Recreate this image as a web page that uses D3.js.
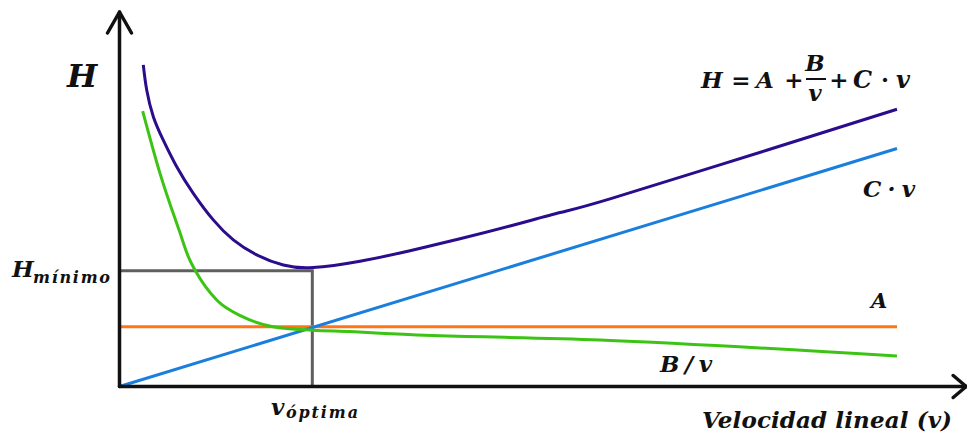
<!DOCTYPE html>
<html>
<head>
<meta charset="utf-8">
<script src="https://cdn.jsdelivr.net/npm/d3@7"></script>
<style>
  html, body { margin: 0; padding: 0; background: #fff; }
  svg text { font-family: "DejaVu Serif", "Liberation Serif", serif; font-weight: bold; font-style: italic; fill: #111; }
</style>
</head>
<body>
<svg id="chart" width="967" height="434"></svg>
<script>
// Van Deemter style plate height curve: H = A + B/v + C·v

// total plate height H(v)
const hVel = [0.306, 0.350, 0.435, 0.563, 0.736, 0.949, 1.206, 1.464, 1.765, 2.107, 2.489, 3.093, 3.736, 4.379, 5.023, 5.666, 6.309, 8.324, 10.0];
const hVal = [9.19, 8.47, 7.71, 7.04, 6.28, 5.52, 4.76, 4.19, 3.76, 3.47, 3.40, 3.58, 3.88, 4.22, 4.585, 4.97, 5.36, 6.75, 7.92];

// longitudinal diffusion term B/v
const bVel = [0.298, 0.521, 0.778, 0.885, 0.993, 1.25, 1.588, 1.974, 2.489, 2.965, 3.351, 6.18, 10.0];
const bVal = [7.87, 6.09, 4.39, 3.71, 3.24, 2.47, 1.99, 1.71, 1.61, 1.57, 1.52, 1.33, 0.87];

// eddy diffusion term A (constant)
const aVel = [0, 10];
const aVal = [1.71, 1.71];

// mass transfer term C·v
const cVel = [0, 10];
const cVal = [0, 6.8];

// optimum point
const vOptima = 2.48;
const hMinimo = 3.31;

// axis extents (arrow tips)
const xAxisEnd = 10.89;
const yAxisEnd = 10.7;

const svg = d3.select("#chart");

const x = d3.scaleLinear().domain([0, 10]).range([119.5, 897]);
const y = d3.scaleLinear().domain([0, 10]).range([386.5, 36.5]);

const zip = (vs, hs) => vs.map((v, i) => [v, hs[i]]);
const smoothH = d3.line().x(d => x(d[0])).y(d => y(d[1])).curve(d3.curveNatural);
const smoothB = d3.line().x(d => x(d[0])).y(d => y(d[1])).curve(d3.curveMonotoneX);
const straight = d3.line().x(d => x(d[0])).y(d => y(d[1]));

// guide lines to the minimum
svg.append("path")
  .attr("d", straight([[0, hMinimo], [vOptima, hMinimo], [vOptima, 0]]))
  .attr("fill", "none").attr("stroke", "#5f5f5f").attr("stroke-width", 3);

// curves
svg.append("path").attr("d", straight(zip(aVel, aVal)))
  .attr("fill", "none").attr("stroke", "#ff7414").attr("stroke-width", 3);
svg.append("path").attr("d", straight(zip(cVel, cVal)))
  .attr("fill", "none").attr("stroke", "#1a7fdc").attr("stroke-width", 3);
svg.append("path").attr("d", smoothB(zip(bVel, bVal)))
  .attr("fill", "none").attr("stroke", "#3cc415").attr("stroke-width", 3);
svg.append("path").attr("d", smoothH(zip(hVel, hVal)))
  .attr("fill", "none").attr("stroke", "#2b0c8c").attr("stroke-width", 3);

// axes with arrows
const axisG = svg.append("g").attr("stroke", "#111").attr("fill", "none")
  .attr("stroke-width", 3.5).attr("stroke-linecap", "round").attr("stroke-linejoin", "round");
axisG.append("path").attr("d", straight([[0, 0], [xAxisEnd, 0]]));
axisG.append("path").attr("d", straight([[0, 0], [0, yAxisEnd]]));
const xt = x(xAxisEnd), yt = y(yAxisEnd);
axisG.append("path").attr("d", `M${xt - 13},${y(0) - 11}L${xt},${y(0)}L${xt - 13},${y(0) + 11}`);
axisG.append("path").attr("d", `M${x(0) - 12},${yt + 21}L${x(0)},${yt}L${x(0) + 12},${yt + 21}`);

// labels
const txt = (s, px, py, size, anchor) => svg.append("text")
  .attr("x", px).attr("y", py).attr("font-size", size)
  .attr("text-anchor", anchor || "start").text(s);

txt("H", 67, 87, 32);

// formula H = A + B/v + C·v
txt("H", 701, 88, 23);
txt("=", 741, 88, 23, "middle").style("font-style", "normal");
txt("A", 756, 88, 23);
txt("+", 794, 88, 23, "middle").style("font-style", "normal");
txt("B", 815, 71, 23, "middle");
svg.append("line").attr("x1", 806).attr("x2", 826).attr("y1", 79).attr("y2", 79)
  .attr("stroke", "#111").attr("stroke-width", 2);
txt("v", 815, 101, 23, "middle");
txt("+", 839, 88, 23, "middle").style("font-style", "normal");
txt("C", 853, 88, 24);
txt("·", 885, 88, 23, "middle").style("font-style", "normal");
txt("v", 896, 88, 24);

txt("C · v", 863, 197, 23).attr("textLength", 52);
txt("A", 871, 308, 21);
txt("B/v", 660, 372, 23).attr("textLength", 52);

txt("Velocidad lineal (v)", 702, 428, 23).attr("textLength", 250);

// H mínimo
txt("H", 12, 277, 23);
txt("mínimo", 33, 283, 16).attr("textLength", 77);

// v óptima
txt("v", 271, 415, 23);
txt("óptima", 286, 418, 16).attr("textLength", 72);
</script>
</body>
</html>
